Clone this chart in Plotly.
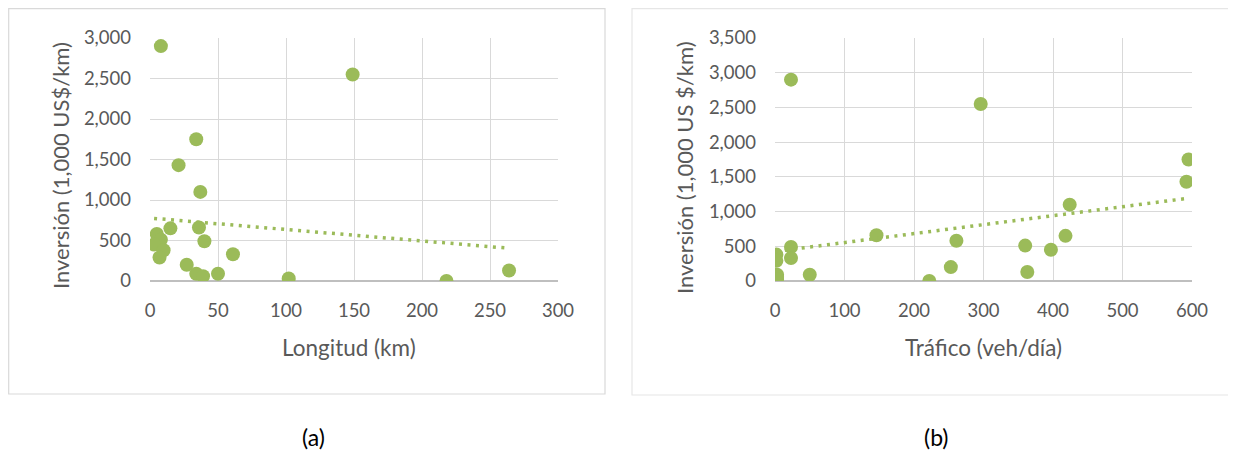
import numpy as np
import plotly.graph_objects as go

# ---- data ----
longitud_km = [8, 149, 34, 21, 37, 15, 36, 5, 8, 3, 40, 10, 7, 61, 27, 34, 39, 50, 102, 218, 264]
inversion_a = [2900, 2550, 1750, 1430, 1100, 650, 660, 580, 510, 450, 490, 380, 290, 330, 200, 90, 60, 90, 30, 0, 130]

trafico_vd = [23, 296, 595, 592, 424, 146, 418, 261, 360, 397, 23, 23, 2, 2, 50, 3, 3, 3, 253, 222, 363]
inversion_b = [2900, 2550, 1750, 1430, 1100, 660, 650, 580, 510, 450, 490, 330, 380, 290, 90, 90, 60, 30, 200, 0, 130]

xticks_a = [0, 50, 100, 150, 200, 250, 300]
xticks_b = [0, 100, 200, 300, 400, 500, 600]

GREEN = "#9BBB59"
GREY_TXT = "#595959"
GRID = "#D9D9D9"
FONT = "Lato"

# page is 1236x462; the page body adds an 8px margin around the figure
OFF = 8
W, H = 1236 - 2 * OFF, 462 - 2 * OFF


def px(x):
    return (x - OFF) / W


def py(y):
    return 1 - (y - OFF) / H


def trend(xs, ys):
    m, b = np.polyfit(xs, ys, 1)
    x0, x1 = min(xs), max(xs)
    return [x0, x1], [m * x0 + b, m * x1 + b]


fig = go.Figure()

fig.add_trace(go.Scatter(x=longitud_km, y=inversion_a, mode="markers",
                         marker=dict(color=GREEN, size=14), xaxis="x", yaxis="y",
                         showlegend=False, hoverinfo="x+y"))
tx, ty = trend(longitud_km, inversion_a)
fig.add_trace(go.Scatter(x=tx, y=ty, mode="lines",
                         line=dict(color=GREEN, width=3.5, dash="3px,5.5px"),
                         xaxis="x", yaxis="y", showlegend=False, hoverinfo="skip"))

fig.add_trace(go.Scatter(x=trafico_vd, y=inversion_b, mode="markers",
                         marker=dict(color=GREEN, size=14), xaxis="x2", yaxis="y2",
                         showlegend=False, hoverinfo="x+y"))
tx2, ty2 = trend(trafico_vd, inversion_b)
fig.add_trace(go.Scatter(x=tx2, y=ty2, mode="lines",
                         line=dict(color=GREEN, width=3.5, dash="3px,5.5px"),
                         xaxis="x2", yaxis="y2", showlegend=False, hoverinfo="skip"))

tickfont = dict(family=FONT, size=18.5, color=GREY_TXT)
xcommon = dict(showgrid=True, gridcolor=GRID, gridwidth=1, zeroline=False,
               showline=False, ticks="", tickfont=tickfont, ticklabelstandoff=16,
               fixedrange=True, automargin=False)
ycommon = dict(showgrid=True, gridcolor=GRID, gridwidth=1, zeroline=True,
               zerolinecolor="#BFBFBF", zerolinewidth=1.5, showline=False,
               ticks="", tickfont=tickfont, tickformat=",d", dtick=500,
               ticklabelstandoff=18, fixedrange=True, automargin=False)

ydom = [py(281), py(38)]

fig.update_layout(
    template="none",
    width=W, height=H, autosize=False,
    margin=dict(l=0, r=0, t=0, b=0, pad=0),
    paper_bgcolor="white", plot_bgcolor="white",
    font=dict(family=FONT, color=GREY_TXT),
    xaxis=dict(domain=[px(150), px(558)], range=[0, 300], tickvals=xticks_a,
               anchor="y", **xcommon),
    yaxis=dict(domain=ydom, range=[0, 3000], anchor="x", **ycommon),
    xaxis2=dict(domain=[px(775), px(1192)], range=[0, 600], tickvals=xticks_b,
                anchor="y2", **xcommon),
    yaxis2=dict(domain=ydom, range=[0, 3500], anchor="x2", **ycommon),
    shapes=[
        dict(type="rect", xref="paper", yref="paper", x0=px(8.7), x1=px(605),
             y0=py(394), y1=py(8.7), line=dict(color=GRID, width=1.2)),
        dict(type="rect", xref="paper", yref="paper", x0=px(632), x1=1.02,
             y0=py(395), y1=py(8.7), line=dict(color="#E6E6E6", width=1.2)),
    ],
    annotations=[
        dict(text="Inversión (1,000 US$/km)", xref="paper", yref="paper",
             x=px(60), y=py(166), textangle=-90, showarrow=False,
             font=dict(family=FONT, size=22, color=GREY_TXT),
             xanchor="center", yanchor="middle"),
        dict(text="Longitud (km)", xref="paper", yref="paper",
             x=px(349), y=py(347), showarrow=False,
             font=dict(family=FONT, size=22.5, color=GREY_TXT),
             xanchor="center", yanchor="middle"),
        dict(text="Inversión (1,000 US $/km)", xref="paper", yref="paper",
             x=px(685), y=py(168), textangle=-90, showarrow=False,
             font=dict(family=FONT, size=22, color=GREY_TXT),
             xanchor="center", yanchor="middle"),
        dict(text="Tráfico (veh/día)", xref="paper", yref="paper",
             x=px(983), y=py(347), showarrow=False,
             font=dict(family=FONT, size=22.5, color=GREY_TXT),
             xanchor="center", yanchor="middle"),
        dict(text="(a)", xref="paper", yref="paper",
             x=px(313), y=py(437), showarrow=False,
             font=dict(family=FONT, size=23, color="black"),
             xanchor="center", yanchor="middle"),
        dict(text="(b)", xref="paper", yref="paper",
             x=px(936), y=py(437), showarrow=False,
             font=dict(family=FONT, size=23, color="black"),
             xanchor="center", yanchor="middle"),
    ],
)

fig.write_html("out.html")
